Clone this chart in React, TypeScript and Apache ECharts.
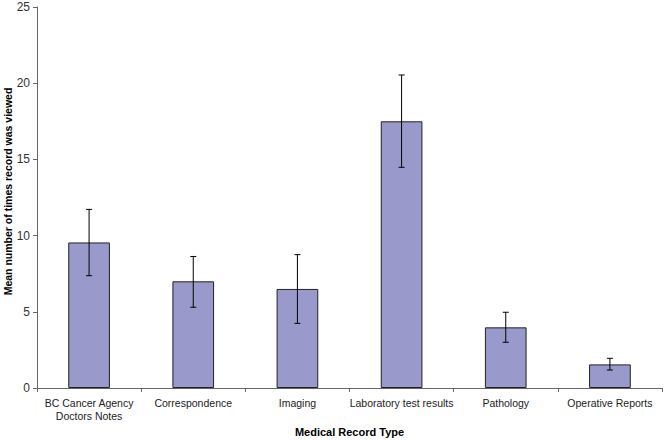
import React, { useEffect, useRef } from "react";
import * as echarts from "echarts";

const categories = [
  "BC Cancer Agency\nDoctors Notes",
  "Correspondence",
  "Imaging",
  "Laboratory test results",
  "Pathology",
  "Operative Reports",
];
const means = [9.55, 7.0, 6.5, 17.5, 3.98, 1.55];
const errLow = [7.37, 5.3, 4.24, 14.48, 3.0, 1.18];
const errHigh = [11.72, 8.63, 8.75, 20.54, 4.97, 1.95];

const FONT = "'Liberation Sans', Arial, sans-serif";

export default function App() {
  const ref = useRef<HTMLDivElement>(null);
  useEffect(() => {
    if (!ref.current) return;
    const chart = echarts.init(ref.current, null, { renderer: "svg" });
    const errData = categories.map((_, i) => [i, errLow[i], errHigh[i]]);
    chart.setOption({
      animation: false,
      backgroundColor: "#ffffff",
      grid: { left: 37, right: 2, top: 7, bottom: 52, containLabel: false, outerBoundsMode: "none" },
      xAxis: {
        type: "category",
        data: categories,
        name: "Medical Record Type",
        nameLocation: "middle",
        nameGap: 38,
        nameMoveOverlap: false,
        nameTextStyle: { fontFamily: FONT, fontSize: 11, fontWeight: "bold", color: "#000" },
        axisLine: { lineStyle: { color: "#666", width: 1 } },
        axisTick: { show: true, alignWithLabel: false, length: 4, lineStyle: { color: "#666" } },
        axisLabel: {
          interval: 0,
          margin: 8,
          fontFamily: FONT,
          fontSize: 10.5,
          lineHeight: 13,
          color: "#222",
        },
      },
      yAxis: {
        type: "value",
        min: 0,
        max: 25,
        interval: 5,
        name: "Mean number of times record was viewed",
        nameLocation: "middle",
        nameGap: 24,
        nameRotate: 90,
        nameMoveOverlap: false,
        nameTextStyle: {
          fontFamily: FONT,
          fontSize: 10.5,
          fontWeight: "bold",
          color: "#000",
          padding: [0, 0, 0, 12],
        },
        axisLine: { show: true, lineStyle: { color: "#666", width: 1 } },
        axisTick: { show: true, length: 4, lineStyle: { color: "#666" } },
        splitLine: { show: false },
        axisLabel: { fontFamily: FONT, fontSize: 12, color: "#333", margin: 7 },
      },
      series: [
        {
          type: "bar",
          data: means,
          barWidth: "40%",
          itemStyle: { color: "#9999cc", borderColor: "#222", borderWidth: 1 },
          z: 2,
        },
        {
          type: "custom",
          data: errData,
          z: 5,
          renderItem: (params: any, api: any) => {
            const x = api.value(0);
            const lo = api.coord([x, api.value(1)]);
            const hi = api.coord([x, api.value(2)]);
            const cap = 3;
            const style = { stroke: "#000", lineWidth: 1 };
            return {
              type: "group",
              children: [
                { type: "line", shape: { x1: hi[0], y1: hi[1], x2: lo[0], y2: lo[1] }, style },
                { type: "line", shape: { x1: hi[0] - cap, y1: hi[1], x2: hi[0] + cap, y2: hi[1] }, style },
                { type: "line", shape: { x1: lo[0] - cap, y1: lo[1], x2: lo[0] + cap, y2: lo[1] }, style },
              ],
            };
          },
        },
      ],
    });
    return () => chart.dispose();
  }, []);
  return (
    <div
      ref={ref}
      style={{ position: "fixed", left: 0, top: 0, width: 664, height: 440, background: "#fff" }}
    />
  );
}
